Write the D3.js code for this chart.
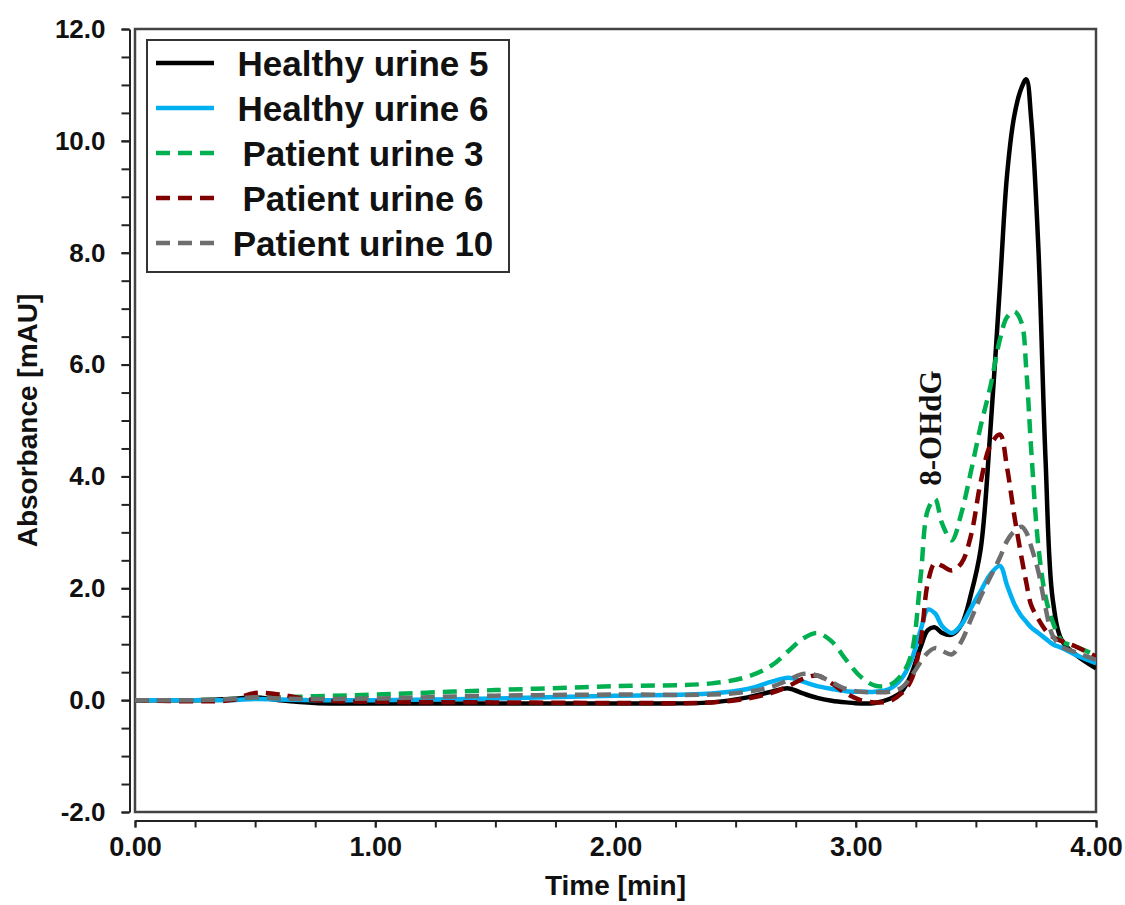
<!DOCTYPE html>
<html>
<head>
<meta charset="utf-8">
<script src="https://cdn.jsdelivr.net/npm/d3@7"></script>
<style>
  body { margin: 0; background: #fff; }
  svg { display: block; }
  .tick text { font-family: "Liberation Sans", Arial, sans-serif; font-weight: bold; }
</style>
</head>
<body>
<div id="chart"></div>
<script>
// retention time grid [min]
var times = [0, 0.25, 0.4, 0.5, 0.6, 0.75, 1.0, 1.5, 2.0, 2.4, 2.55, 2.65, 2.72, 2.78, 2.84, 2.9, 2.96,
  3.02, 3.08, 3.14, 3.19, 3.23, 3.27, 3.30, 3.33, 3.36, 3.40, 3.44, 3.48, 3.52, 3.56, 3.60, 3.63,
  3.66, 3.69, 3.71, 3.73, 3.76, 3.79, 3.82, 3.86, 3.92, 4.0]

// absorbance [mAU]
var healthy5 = [0, 0, 0.02, 0.05, 0.0, -0.05, -0.06, -0.06, -0.06, -0.04, 0.05, 0.15, 0.21, 0.12, 0.04, -0.01, -0.04,
  -0.06, -0.05, 0.02, 0.15, 0.45, 0.95, 1.25, 1.3, 1.2, 1.17, 1.35, 1.9, 2.7, 4.8, 7.4, 9.4,
  10.45, 10.95, 11.1, 10.4, 8.1, 4.3, 1.8, 1.05, 0.8, 0.57]
var healthy6 = [0, 0, 0, 0.02, 0.01, 0, 0, 0.03, 0.08, 0.12, 0.2, 0.33, 0.4, 0.33, 0.25, 0.2, 0.16,
  0.15, 0.15, 0.2, 0.38, 0.7, 1.25, 1.62, 1.55, 1.32, 1.2, 1.35, 1.65, 1.95, 2.25, 2.4, 2.05,
  1.72, 1.5, 1.4, 1.3, 1.2, 1.1, 1.0, 0.93, 0.8, 0.66]
var patient3 = [0, 0, 0.02, 0.05, 0.05, 0.07, 0.1, 0.18, 0.25, 0.3, 0.42, 0.62, 0.88, 1.1, 1.2, 1.05, 0.72,
  0.42, 0.26, 0.27, 0.45, 0.8, 2.2, 3.4, 3.6, 3.15, 2.86, 3.35, 4.1, 4.9, 5.6, 6.45, 6.85,
  6.95, 6.75, 5.9, 4.5, 2.75, 1.85, 1.4, 1.05, 0.95, 0.8]
var patient6 = [0, -0.02, 0, 0.13, 0.1, 0, -0.03, -0.04, -0.05, -0.04, 0.03, 0.13, 0.25, 0.38, 0.44, 0.3, 0.12,
  0, -0.04, -0.02, 0.12, 0.35, 1.05, 2.1, 2.45, 2.4, 2.32, 2.45, 2.95, 3.9, 4.55, 4.75, 4.15,
  3.3, 2.55, 2.1, 1.7, 1.45, 1.25, 1.13, 1.05, 0.95, 0.78]
var patient10 = [0, 0, 0.02, 0.05, 0.03, 0.02, 0.03, 0.08, 0.1, 0.1, 0.15, 0.24, 0.36, 0.47, 0.44, 0.32, 0.2,
  0.15, 0.14, 0.15, 0.22, 0.42, 0.68, 0.85, 0.93, 0.88, 0.82, 1.05, 1.45, 1.85, 2.2, 2.55, 2.85,
  3.02, 3.1, 3.0, 2.75, 2.3, 1.65, 1.15, 0.95, 0.85, 0.72]

var seriesNames = ["Healthy urine 5", "Healthy urine 6", "Patient urine 3", "Patient urine 6", "Patient urine 10"]
var seriesValues = [healthy5, healthy6, patient3, patient6, patient10]
var seriesColors = ["#000000", "#00b0f0", "#00b050", "#800000", "#6e6e6e"]
var seriesDashed = [false, false, true, true, true]

var xMajor = [0, 1, 2, 3, 4]
var yMajor = [-2, 0, 2, 4, 6, 8, 10, 12]

var W = 1125, H = 905
var plot = { left: 135, top: 29, right: 1096, bottom: 812 }

var svg = d3.select("#chart").append("svg")
  .attr("width", W)
  .attr("height", H)

var x = d3.scaleLinear().domain([0, 4]).range([plot.left, plot.right])
var y = d3.scaleLinear().domain([-2, 12]).range([plot.bottom, plot.top])

svg.append("clipPath").attr("id", "clip")
  .append("rect")
  .attr("x", plot.left).attr("y", plot.top)
  .attr("width", plot.right - plot.left).attr("height", plot.bottom - plot.top)

// plain hyphen for negatives, like the original software
var fmtY = d => d.toFixed(1)
var fmtX = d => d.toFixed(2)

// y axis, sits a bit left of the frame
var yAxisX = 129.5
var yMinor = d3.range(-2, 12.01, 0.5)
svg.append("g")
  .attr("transform", "translate(" + yAxisX + ",0)")
  .call(d3.axisLeft(y).tickValues(yMinor).tickSize(8).tickSizeOuter(0).tickFormat(""))
  .call(g => g.selectAll("line, path").attr("stroke", "#222").attr("stroke-width", 2))
svg.append("g")
  .attr("transform", "translate(" + yAxisX + ",0)")
  .call(d3.axisLeft(y).tickValues(yMajor).tickSize(8).tickPadding(16).tickFormat(fmtY))
  .call(g => g.select(".domain").remove())
  .call(g => g.selectAll("line").attr("stroke", "#222").attr("stroke-width", 2))
  .call(g => g.selectAll("text").attr("font-size", 26).attr("fill", "#111"))

// x axis, sits a bit below the frame
var xAxisY = 820.5
var xMinor = d3.range(0, 4.01, 0.25)
svg.append("g")
  .attr("transform", "translate(0," + xAxisY + ")")
  .call(d3.axisBottom(x).tickValues(xMinor).tickSize(7).tickSizeOuter(0).tickFormat(""))
  .call(g => g.selectAll("line, path").attr("stroke", "#222").attr("stroke-width", 2))
svg.append("g")
  .attr("transform", "translate(0," + xAxisY + ")")
  .call(d3.axisBottom(x).tickValues(xMajor).tickSize(7).tickPadding(9).tickFormat(fmtX))
  .call(g => g.select(".domain").remove())
  .call(g => g.selectAll("line").attr("stroke", "#222").attr("stroke-width", 2))
  .call(g => g.selectAll("text").attr("font-size", 27).attr("fill", "#111"))

// frame
svg.append("rect")
  .attr("x", plot.left).attr("y", plot.top)
  .attr("width", plot.right - plot.left).attr("height", plot.bottom - plot.top)
  .attr("fill", "none").attr("stroke", "#444").attr("stroke-width", 2.5)

// traces
var line = d3.line()
  .x(d => x(d[0]))
  .y(d => y(d[1]))
  .curve(d3.curveCatmullRom.alpha(0.5))

var traces = svg.append("g").attr("clip-path", "url(#clip)")
seriesValues.forEach(function(vals, i) {
  var pts = times.map((t, j) => [t, vals[j]])
  traces.append("path")
    .datum(pts)
    .attr("d", line)
    .attr("fill", "none")
    .attr("stroke", seriesColors[i])
    .attr("stroke-width", 4.5)
    .attr("stroke-dasharray", seriesDashed[i] ? "14,8" : null)
    .attr("stroke-linejoin", "round")
})

// legend
var legend = svg.append("g")
legend.append("rect")
  .attr("x", 147).attr("y", 40).attr("width", 362).attr("height", 232)
  .attr("fill", "#fff").attr("stroke", "#333").attr("stroke-width", 2)
seriesNames.forEach(function(name, i) {
  var ly = 63 + i * 45
  legend.append("line")
    .attr("x1", 156).attr("x2", 214).attr("y1", ly).attr("y2", ly)
    .attr("stroke", seriesColors[i]).attr("stroke-width", 4.5)
    .attr("stroke-dasharray", seriesDashed[i] ? "14,8" : null)
  legend.append("text")
    .attr("x", 363).attr("y", ly)
    .attr("dy", "0.36em")
    .attr("text-anchor", "middle")
    .attr("font-family", "Liberation Sans, Arial, sans-serif")
    .attr("font-weight", "bold")
    .attr("font-size", 35)
    .attr("fill", "#111")
    .text(name)
})

// axis titles
svg.append("text")
  .attr("x", (plot.left + plot.right) / 2).attr("y", 895)
  .attr("text-anchor", "middle")
  .attr("font-family", "Liberation Sans, Arial, sans-serif")
  .attr("font-weight", "bold").attr("font-size", 28).attr("fill", "#111")
  .text("Time [min]")
svg.append("text")
  .attr("transform", "translate(37," + (plot.top + plot.bottom) / 2 + ") rotate(-90)")
  .attr("text-anchor", "middle")
  .attr("font-family", "Liberation Sans, Arial, sans-serif")
  .attr("font-weight", "bold").attr("font-size", 28).attr("fill", "#111")
  .text("Absorbance [mAU]")

// peak label
svg.append("text")
  .attr("transform", "translate(941," + 428 + ") rotate(-90)")
  .attr("text-anchor", "middle")
  .attr("font-family", "Liberation Serif, Times New Roman, serif")
  .attr("font-weight", "bold").attr("font-size", 31).attr("fill", "#111")
  .text("8-OHdG")
</script>
</body>
</html>
